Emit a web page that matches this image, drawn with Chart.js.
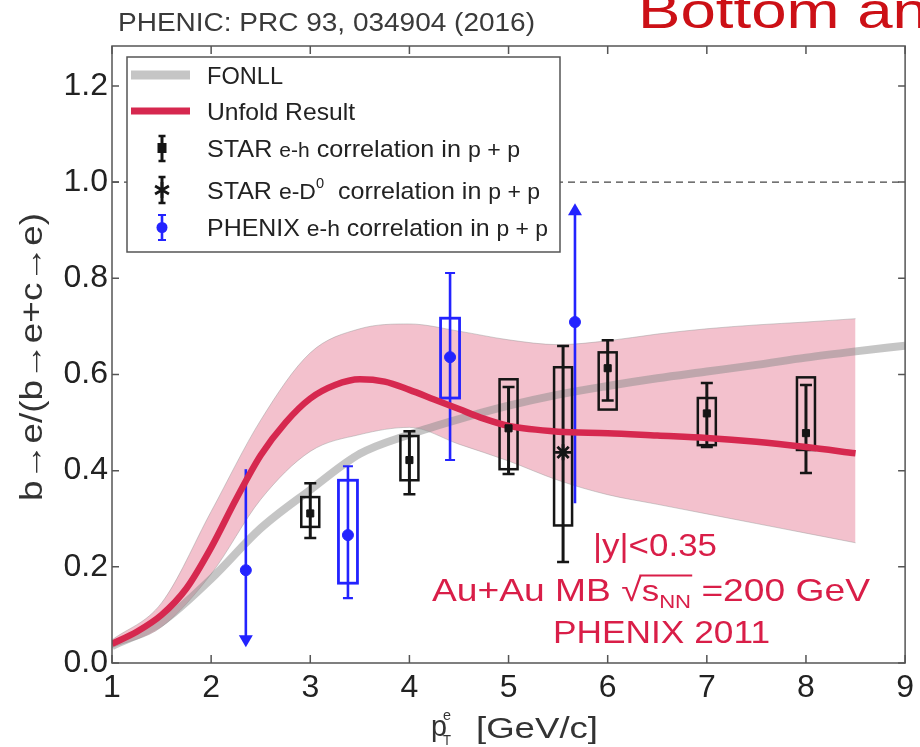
<!DOCTYPE html>
<html><head><meta charset="utf-8">
<script src="https://cdn.jsdelivr.net/npm/chart.js@4.4.1/dist/chart.umd.min.js"></script>
<style>html,body{margin:0;padding:0;background:#fff;} #wrap{width:920px;height:747px;position:relative;}</style>
</head><body><div id="wrap"><canvas id="c" width="920" height="747"></canvas></div>
<script>
// ---------- data ----------
const xTickValues = [1, 2, 3, 4, 5, 6, 7, 8, 9];
const yTickValues = [0, 0.2, 0.4, 0.6, 0.8, 1.0, 1.2];

const fonllX = [1, 1.5, 2, 2.5, 3, 3.5, 4, 4.5, 5, 5.5, 6, 6.5, 7, 7.5, 8, 8.5, 9];
const fonllY = [0.035, 0.085, 0.175, 0.28, 0.36, 0.435, 0.475, 0.507, 0.535, 0.558, 0.576, 0.592, 0.606, 0.62, 0.635, 0.648, 0.66];

const unfoldX = [1, 1.25, 1.5, 1.75, 2, 2.25, 2.5, 2.75, 3, 3.25, 3.5, 3.75, 4, 4.25, 4.5, 4.75, 5, 5.5, 6, 6.5, 7, 7.5, 8, 8.5];
const unfoldY = [0.04, 0.065, 0.1, 0.155, 0.24, 0.34, 0.432, 0.5, 0.55, 0.578, 0.59, 0.585, 0.568, 0.548, 0.528, 0.508, 0.493, 0.481, 0.478, 0.473, 0.468, 0.46, 0.449, 0.436];

const bandX  = [1, 1.5, 2, 2.5, 3, 3.5, 4, 4.5, 5, 5.5, 6, 6.5, 7, 7.5, 8, 8.5];
const bandHi = [0.048, 0.125, 0.315, 0.505, 0.645, 0.695, 0.705, 0.69, 0.672, 0.662, 0.67, 0.684, 0.695, 0.703, 0.709, 0.716];
const bandLo = [0.032, 0.075, 0.185, 0.34, 0.44, 0.475, 0.49, 0.455, 0.42, 0.38, 0.35, 0.33, 0.31, 0.29, 0.27, 0.25];

const starEhX     = [3, 4, 5, 6, 7, 8];
const starEhY     = [0.311, 0.422, 0.488, 0.613, 0.519, 0.478];
const starEhLo    = [0.26, 0.351, 0.393, 0.546, 0.449, 0.395];
const starEhHi    = [0.374, 0.482, 0.574, 0.671, 0.582, 0.578];
const starEhSysLo = [0.283, 0.38, 0.403, 0.527, 0.453, 0.443];
const starEhSysHi = [0.345, 0.472, 0.59, 0.646, 0.551, 0.594];

const starEdX     = [5.55];
const starEdY     = [0.438];
const starEdLo    = [0.21];
const starEdHi    = [0.659];
const starEdSysLo = [0.286];
const starEdSysHi = [0.615];

const phenixX     = [2.35, 3.38, 4.41, 5.67];
const phenixY     = [0.193, 0.266, 0.636, 0.709];
const phenixLo    = [0.033, 0.135, 0.422, 0.332];
const phenixHi    = [0.403, 0.409, 0.811, 0.956];
const phenixSysLo = [null, 0.166, 0.551, null];
const phenixSysHi = [null, 0.38, 0.717, null];
const phenixLimit = ['down', null, null, 'up'];

const refLineY = 1.0;

// ---------- helpers ----------
const FONT = '"Liberation Sans", Arial, "DejaVu Sans", sans-serif';
const pts = (xs, ys) => xs.map((x, i) => ({ x: x, y: ys[i] }));
const RED_LINE = '#d6284f';
const BLUE = '#2323ff';
const BLACK = '#151515';

function fitText(c, segs, x, baseline, targetW, color) {
  let w = 0;
  segs.forEach(s => { c.font = s.s + 'px ' + FONT; s.w = c.measureText(s.t).width; w += s.w; });
  const sx = targetW / w;
  c.save();
  c.translate(x, baseline);
  c.scale(sx, 1);
  c.fillStyle = color; c.strokeStyle = color;
  c.textBaseline = 'alphabetic'; c.textAlign = 'left';
  let cx = 0, olStart = null, olEnd = null, olY = 0;
  segs.forEach(s => {
    c.font = s.s + 'px ' + FONT;
    c.fillText(s.t, cx, s.dy || 0);
    if (s.ol) { if (olStart === null) { olStart = cx; olY = -s.s * 0.85; } olEnd = cx + s.w; }
    cx += s.w;
  });
  if (olStart !== null) {
    c.lineWidth = 2; c.beginPath(); c.moveTo(olStart - 2, olY); c.lineTo(olEnd + 1, olY); c.stroke();
  }
  c.restore();
}

function drawErr(c, xs, px, lo, hi, color, capW, lw, limit) {
  c.strokeStyle = color; c.fillStyle = color; c.lineWidth = lw;
  const yLo = lo, yHi = hi;
  if (limit === 'down') {
    c.beginPath(); c.moveTo(px, yHi); c.lineTo(px, yLo - 11); c.stroke();
    c.beginPath(); c.moveTo(px - 7, yLo - 12); c.lineTo(px + 7, yLo - 12); c.lineTo(px, yLo); c.closePath(); c.fill();
  } else if (limit === 'up') {
    c.beginPath(); c.moveTo(px, yLo); c.lineTo(px, yHi + 11); c.stroke();
    c.beginPath(); c.moveTo(px - 7, yHi + 12); c.lineTo(px + 7, yHi + 12); c.lineTo(px, yHi); c.closePath(); c.fill();
  } else {
    c.beginPath(); c.moveTo(px, yLo); c.lineTo(px, yHi); c.stroke();
    c.lineWidth = Math.max(2, lw - 0.5);
    c.beginPath();
    c.moveTo(px - capW / 2, yLo); c.lineTo(px + capW / 2, yLo);
    c.moveTo(px - capW / 2, yHi); c.lineTo(px + capW / 2, yHi);
    c.stroke();
  }
}

const errorPlugin = {
  id: 'errs',
  beforeDatasetsDraw(chart) {
    const c = chart.ctx, xs = chart.scales.x, ys = chart.scales.y;
    c.save();
    c.strokeStyle = '#444'; c.lineWidth = 1.2; c.setLineDash([7, 5]);
    c.beginPath();
    c.moveTo(xs.getPixelForValue(xs.min), ys.getPixelForValue(refLineY));
    c.lineTo(xs.getPixelForValue(xs.max) - 5, ys.getPixelForValue(refLineY));
    c.stroke();
    c.restore();
  },
  afterDatasetDraw(chart, args) {
    if (args.index !== 2) return;
    const c = chart.ctx, xs = chart.scales.x, ys = chart.scales.y;
    c.save();
    const star = (X, Y, L, H, SL, SH) => {
      X.forEach((x, i) => {
        const px = xs.getPixelForValue(x);
        c.strokeStyle = BLACK; c.lineWidth = 2.5;
        const t = ys.getPixelForValue(SH[i]), b = ys.getPixelForValue(SL[i]);
        c.strokeRect(px - 9, t, 18, b - t);
        drawErr(c, xs, px, ys.getPixelForValue(L[i]), ys.getPixelForValue(H[i]), BLACK, 12, 3);
      });
    };
    star(starEhX, starEhY, starEhLo, starEhHi, starEhSysLo, starEhSysHi);
    star(starEdX, starEdY, starEdLo, starEdHi, starEdSysLo, starEdSysHi);
    phenixX.forEach((x, i) => {
      const px = xs.getPixelForValue(x);
      if (phenixSysLo[i] !== null) {
        c.strokeStyle = BLUE; c.lineWidth = 2.8;
        const t = ys.getPixelForValue(phenixSysHi[i]), b = ys.getPixelForValue(phenixSysLo[i]);
        c.strokeRect(px - 9.5, t, 19, b - t);
      }
      drawErr(c, xs, px, ys.getPixelForValue(phenixLo[i]), ys.getPixelForValue(phenixHi[i]), BLUE, 10, 2.6, phenixLimit[i]);
    });
    c.restore();
  },
  afterDraw(chart) {
    const c = chart.ctx, a = chart.chartArea, xs = chart.scales.x, ys = chart.scales.y;
    c.save();
    // frame + inward ticks
    c.strokeStyle = '#555'; c.lineWidth = 1.5;
    c.strokeRect(a.left, a.top, a.right - a.left, a.bottom - a.top);
    c.beginPath();
    xTickValues.forEach(v => {
      const p = xs.getPixelForValue(v);
      c.moveTo(p, a.bottom); c.lineTo(p, a.bottom - 8);
      c.moveTo(p, a.top); c.lineTo(p, a.top + 8);
    });
    yTickValues.forEach(v => {
      const p = ys.getPixelForValue(v);
      c.moveTo(a.left, p); c.lineTo(a.left + 7, p);
      c.moveTo(a.right, p); c.lineTo(a.right - 7, p);
    });
    c.stroke();

    // legend
    const L = 127, T = 57, R = 560, B = 252;
    c.fillStyle = '#fff'; c.fillRect(L, T, R - L, B - T);
    c.strokeStyle = '#555'; c.lineWidth = 1.5; c.strokeRect(L, T, R - L, B - T);
    c.lineCap = 'butt';
    c.strokeStyle = 'rgba(150,150,150,0.55)'; c.lineWidth = 9;
    c.beginPath(); c.moveTo(131, 75); c.lineTo(190, 75); c.stroke();
    c.strokeStyle = RED_LINE; c.lineWidth = 7;
    c.beginPath(); c.moveTo(131, 111); c.lineTo(190, 111); c.stroke();
    // STAR e-h marker
    drawErr(c, xs, 162, 161, 136, BLACK, 7, 3);
    c.fillStyle = BLACK; c.fillRect(157.5, 143, 9, 10);
    // STAR e-D0 marker
    drawErr(c, xs, 162, 203, 177, BLACK, 7, 3);
    c.strokeStyle = BLACK; c.lineWidth = 2.8;
    c.beginPath();
    for (let k = 0; k < 3; k++) {
      const ang = Math.PI / 2 + k * Math.PI / 3;
      c.moveTo(162 + 8 * Math.cos(ang), 190 + 8 * Math.sin(ang));
      c.lineTo(162 - 8 * Math.cos(ang), 190 - 8 * Math.sin(ang));
    }
    c.stroke();
    // PHENIX marker
    drawErr(c, xs, 162, 240, 215, BLUE, 8, 2.6);
    c.fillStyle = BLUE; c.beginPath(); c.arc(162, 227.5, 5.5, 0, Math.PI * 2); c.fill();

    const TXT = '#222';
    fitText(c, [{ t: 'FONLL', s: 24 }], 207, 84, 76, TXT);
    fitText(c, [{ t: 'Unfold Result', s: 24 }], 207, 120, 148, TXT);
    fitText(c, [{ t: 'STAR ', s: 24 }, { t: 'e-h', s: 20 }, { t: ' correlation in ', s: 24 }, { t: 'p + p', s: 22 }], 207, 157, 313, TXT);
    fitText(c, [{ t: 'STAR ', s: 24 }, { t: 'e-D', s: 22 }, { t: '0', s: 14, dy: -11 }, { t: '  correlation in ', s: 24 }, { t: 'p + p', s: 22 }], 207, 199, 333, TXT);
    fitText(c, [{ t: 'PHENIX ', s: 24 }, { t: 'e-h', s: 22 }, { t: ' correlation in ', s: 24 }, { t: 'p + p', s: 22 }], 207, 236, 341, TXT);

    // annotations
    const ANN = '#d91e48';
    fitText(c, [{ t: '|y|<0.35', s: 32 }], 593, 556, 124, ANN);
    fitText(c, [{ t: 'Au+Au MB ', s: 32 }, { t: '\u221A', s: 32 }, { t: 's', s: 30, ol: true }, { t: 'NN', s: 19, dy: 7, ol: true }, { t: ' =200 GeV', s: 32 }], 432, 601, 438, ANN);
    fitText(c, [{ t: 'PHENIX 2011', s: 32 }], 553, 643, 217, ANN);

    // titles
    fitText(c, [{ t: 'PHENIC: PRC 93, 034904 (2016)', s: 26 }], 118, 31, 417, '#3a3a3a');
    fitText(c, [{ t: 'Bottom an', s: 50 }], 638, 28, 290, '#cc1016');

    // axis titles
    c.save();
    c.translate(33, 357); c.rotate(-Math.PI / 2);
    fitText(c, [{ t: 'b\u2192e/(b\u2192e+c\u2192e)', s: 32 }], -144, 9, 288, '#333');
    c.restore();
    fitText(c, [{ t: 'p', s: 30 }], 431, 736, 16, '#333');
    fitText(c, [{ t: 'e', s: 15 }], 443, 720, 8, '#333');
    fitText(c, [{ t: 'T', s: 14 }], 443, 745, 8, '#333');
    fitText(c, [{ t: '[GeV/c]', s: 30 }], 476, 738, 122, '#333');
    c.restore();
  }
};

const chart = new Chart(document.getElementById('c').getContext('2d'), {
  type: 'line',
  data: {
    datasets: [
      { label: 'band upper', data: pts(bandX, bandHi), borderColor: 'rgba(150,150,150,0.45)', borderWidth: 1,
        backgroundColor: '#f3c1cd', fill: '+1', pointRadius: 0, cubicInterpolationMode: 'monotone', order: 10 },
      { label: 'band lower', data: pts(bandX, bandLo), borderColor: 'rgba(150,150,150,0.45)', borderWidth: 1,
        fill: false, pointRadius: 0, cubicInterpolationMode: 'monotone', order: 9 },
      { label: 'FONLL', data: pts(fonllX, fonllY), borderColor: 'rgba(140,140,140,0.5)', borderWidth: 8,
        fill: false, pointRadius: 0, cubicInterpolationMode: 'monotone', order: 8 },
      { label: 'Unfold Result', data: pts(unfoldX, unfoldY), borderColor: RED_LINE, borderWidth: 6.5,
        fill: false, pointRadius: 0, cubicInterpolationMode: 'monotone', order: 7 },
      { label: 'STAR e-h correlation in p+p', type: 'scatter', data: pts(starEhX, starEhY), pointStyle: 'rect',
        pointRadius: 5, backgroundColor: BLACK, borderColor: BLACK, order: 2 },
      { label: 'STAR e-D0 correlation in p+p', type: 'scatter', data: pts(starEdX, starEdY), pointStyle: 'star',
        pointRadius: 8, borderWidth: 2.8, backgroundColor: BLACK, borderColor: BLACK, order: 2 },
      { label: 'PHENIX e-h correlation in p+p', type: 'scatter', data: pts(phenixX, phenixY), pointStyle: 'circle',
        pointRadius: 5.5, backgroundColor: BLUE, borderColor: BLUE, order: 1 }
    ]
  },
  options: {
    responsive: false, animation: false, maintainAspectRatio: false,
    layout: { padding: { left: 0, right: 9, top: 46, bottom: 0 } },
    plugins: { legend: { display: false }, tooltip: { enabled: false } },
    scales: {
      x: {
        type: 'linear', min: 1, max: 9,
        grid: { display: false, drawTicks: false }, border: { display: false },
        afterBuildTicks: s => { s.ticks = xTickValues.map(v => ({ value: v })); },
        afterFit: s => { s.height = 84; },
        ticks: { font: { family: FONT, size: 32 }, color: '#222', padding: 6, maxRotation: 0, autoSkip: false,
                 callback: v => String(v) }
      },
      y: {
        type: 'linear', min: 0, max: 1.283,
        grid: { display: false, drawTicks: false }, border: { display: false },
        afterBuildTicks: s => { s.ticks = yTickValues.map(v => ({ value: v })); },
        afterFit: s => { s.width = 112; },
        ticks: { font: { family: FONT, size: 32 }, color: '#222', padding: 4, autoSkip: false,
                 callback: v => Number(v).toFixed(1) }
      }
    }
  },
  plugins: [errorPlugin]
});
</script></body></html>
